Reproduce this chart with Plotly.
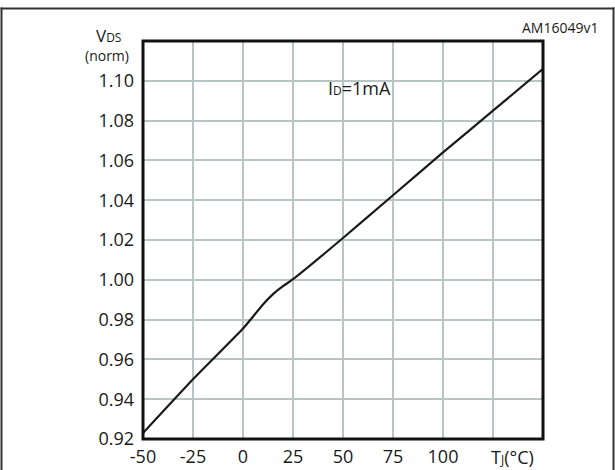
import plotly.graph_objects as go

# Data
tj = [-50, -25, 0, 10, 15, 20, 25, 50, 75, 100, 125, 150]
vds = [0.923, 0.950, 0.9755, 0.9876, 0.9928, 0.9968, 1.0003, 1.021, 1.0425, 1.064, 1.085, 1.106]

x_ticks = [-50, -25, 0, 25, 50, 75, 100, 125, 150]
x_tick_text = ["-50", "-25", "0", "25", "50", "75", "100", "", ""]
y_ticks = [0.92, 0.94, 0.96, 0.98, 1.00, 1.02, 1.04, 1.06, 1.08, 1.10, 1.12]
y_tick_text = ["0.92", "0.94", "0.96", "0.98", "1.00", "1.02", "1.04", "1.06", "1.08", "1.10", ""]

FONT = "Open Sans"
GRID = "#b9c5c5"
INK = "#1a1a1a"

fig = go.Figure()
fig.add_trace(go.Scatter(x=tj, y=vds, mode="lines",
                         line=dict(color=INK, width=2.2, shape="spline", smoothing=0.4),
                         showlegend=False, hoverinfo="skip"))

fig.update_layout(
    width=615, height=470,
    margin=dict(l=143, r=72, t=41, b=31, autoexpand=False),
    paper_bgcolor="white", plot_bgcolor="white",
    font=dict(family=FONT, size=18, color=INK),
    xaxis=dict(range=[-50, 150], tickmode="array", tickvals=x_ticks, ticktext=x_tick_text,
               showgrid=True, gridcolor=GRID, gridwidth=1.6, zeroline=False,
               ticks="", showline=False, ticklabelstandoff=5, automargin=False,
               tickfont=dict(family=FONT, size=18, color=INK)),
    yaxis=dict(range=[0.92, 1.12], tickmode="array", tickvals=y_ticks, ticktext=y_tick_text,
               showgrid=True, gridcolor=GRID, gridwidth=1.6, zeroline=False,
               ticks="", showline=False, ticklabelstandoff=8, automargin=False,
               tickfont=dict(family=FONT, size=18, color=INK)),
)

W, H = 400.0, 398.0
def px(x):
    return (x - 143) / W
def py(y):
    return (439 - y) / H

# plot border
fig.add_shape(type="rect", xref="paper", yref="paper", x0=0, y0=0, x1=1, y1=1,
              line=dict(color="#111111", width=3), layer="above")
# outer frame (left, top, right edges) as thin filled bars
FRAME_C = "#333333"
fig.add_shape(type="rect", xref="paper", yref="paper", x0=px(0.5), x1=px(2.5), y0=py(480), y1=py(7.5),
              line=dict(width=0), fillcolor=FRAME_C, layer="above")
fig.add_shape(type="rect", xref="paper", yref="paper", x0=px(0.5), x1=px(614.5), y0=py(9.5), y1=py(7.5),
              line=dict(width=0), fillcolor=FRAME_C, layer="above")
fig.add_shape(type="rect", xref="paper", yref="paper", x0=px(612.5), x1=px(614.5), y0=py(480), y1=py(7.5),
              line=dict(width=0), fillcolor=FRAME_C, layer="above")

# white box behind the condition label (between grid and traces)
fig.add_shape(type="rect", xref="paper", yref="paper",
              x0=px(302), x1=px(416), y0=py(107), y1=py(62),
              line=dict(width=0), fillcolor="white", layer="between")

small = "font-size:12px"
fig.add_annotation(xref="paper", yref="paper", x=px(359), y=py(88),
                   text=f"I<span style='{small}'>D</span>=1mA", showarrow=False,
                   font=dict(family=FONT, size=18, color=INK),
                   xanchor="center", yanchor="middle")

fig.add_annotation(xref="paper", yref="paper", x=px(108), y=py(35),
                   text=f"V<span style='{small}'>DS</span>", showarrow=False,
                   font=dict(family=FONT, size=17, color=INK),
                   xanchor="center", yanchor="middle")
fig.add_annotation(xref="paper", yref="paper", x=px(107), y=py(55),
                   text="(norm)", showarrow=False,
                   font=dict(family=FONT, size=14, color=INK),
                   xanchor="center", yanchor="middle")

fig.add_annotation(xref="paper", yref="paper", x=px(512), y=py(457),
                   text=f"T<span style='{small}'>J</span>(°C)", showarrow=False,
                   font=dict(family=FONT, size=18, color=INK),
                   xanchor="center", yanchor="middle")

fig.add_annotation(xref="paper", yref="paper", x=px(600), y=py(28),
                   text="AM16049v1", showarrow=False,
                   font=dict(family=FONT, size=14, color=INK),
                   xanchor="right", yanchor="middle")

fig.write_html("out.html", config={"displayModeBar": False},
               post_script="document.body.style.margin='0px';document.body.style.overflow='hidden';")
